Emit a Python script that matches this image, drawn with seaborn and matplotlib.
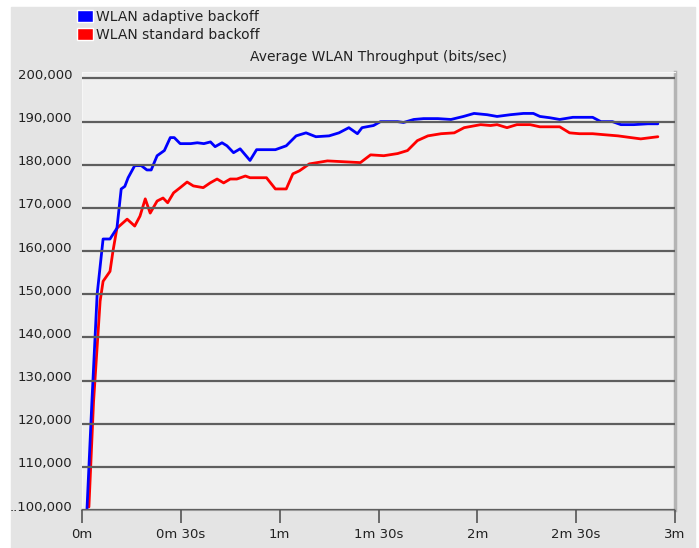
import matplotlib
matplotlib.use("Agg")
import matplotlib.pyplot as plt
import matplotlib.transforms as mtransforms
import seaborn as sns
from matplotlib.patches import Patch, Rectangle

# time in seconds, throughput in bits/sec
adaptive_t = [1.5, 3.0, 4.6, 6.4, 8.5, 10.6, 11.9, 13, 14, 16, 18, 19.7, 21, 22.8, 25, 26.8, 28,
              29.8, 33, 35, 37, 39, 40.4, 42.5, 44, 46, 48, 51, 53, 58.7, 62, 65, 68, 71, 75,
              78, 81, 83.6, 85, 88.5, 90.6, 95.8, 97.6, 100.7, 103.7, 108, 112, 115.8, 119,
              123, 126, 130, 134, 137, 139, 142, 145, 149, 155, 157.5, 161, 163.6, 167.5,
              171.8, 174.8]
adaptive_v = [100000, 125000, 150000, 162800, 162800, 165300, 174400, 175000, 177000, 179800,
              179800, 178800, 178800, 182100, 183300, 186300, 186300, 184900, 184900, 185100,
              184900, 185300, 184200, 185100, 184400, 182800, 183700, 181000, 183500, 183500,
              184400, 186700, 187400, 186500, 186700, 187400, 188600, 187200, 188600, 189100,
              190000, 190000, 189800, 190500, 190700, 190700, 190500, 191200, 191900, 191600,
              191200, 191600, 191900, 191900, 191200, 190900, 190500, 191000, 191000, 190000,
              190000, 189300, 189300, 189500, 189500]

standard_t = [2.1, 3.5, 5.5, 6.4, 8.5, 9.4, 10.6, 13.7, 16, 17.6, 19.2, 20.7, 22.8, 24.6, 26,
              27.8, 29.8, 31.9, 33.8, 36.8, 38.9, 41, 43, 45, 47, 49.6, 51, 56, 58.7, 62, 64,
              66, 69, 74.5, 84.5, 87.6, 91.6, 95.8, 98.8, 101.8, 105, 109, 113, 116, 121, 124,
              126, 129, 132, 136, 139, 145, 148, 151, 155, 158, 162.7, 166.6, 169.6, 172.7,
              174.8]
standard_v = [100700, 125000, 148400, 153000, 155300, 160000, 165300, 167400, 165800, 168100,
              172100, 168800, 171600, 172300, 171200, 173500, 174700, 176000, 175100, 174700,
              175800, 176700, 175800, 176700, 176700, 177400, 177000, 177000, 174400, 174400,
              177900, 178600, 180200, 180900, 180500, 182300, 182100, 182600, 183300, 185600,
              186700, 187200, 187400, 188600, 189300, 189100, 189300, 188600, 189300, 189300,
              188800, 188800, 187400, 187200, 187200, 187000, 186700, 186300, 186000, 186300,
              186500]

x_ticks = [0, 30, 60, 90, 120, 150, 180]
x_labels = ["0m", "0m 30s", "1m", "1m 30s", "2m", "2m 30s", "3m"]
y_ticks = [100000, 110000, 120000, 130000, 140000, 150000, 160000, 170000, 180000, 190000, 200000]
y_labels = ["..100,000", "110,000", "120,000", "130,000", "140,000", "150,000",
            "160,000", "170,000", "180,000", "190,000", "200,000"]

sns.set_style("white")
plt.rcParams["font.family"] = ["DejaVu Sans"]
txt = "#222222"
fs = 10

W, H = 699, 548
fig = plt.figure(figsize=(W / 100, H / 100), dpi=100, facecolor="white")
# gray panel behind everything
fig.patches.append(Rectangle((11 / W, 0), (695 - 11) / W, 1 - 7 / H,
                             transform=fig.transFigure, color="#e4e4e4", zorder=-10))

ax = fig.add_axes([82 / W, 1 - 510 / H, (675 - 82) / W, (510 - 72) / H])
ax.set_zorder(1)
ax.set_facecolor("#efefef")

sns.lineplot(x=standard_t, y=standard_v, color="#ff0000", linewidth=2, ax=ax, zorder=2)
sns.lineplot(x=adaptive_t, y=adaptive_v, color="#0000ff", linewidth=2, ax=ax, zorder=2)

ax.set_xlim(0, 180)
ax.set_ylim(100000, 201500)
ax.set_xticks(x_ticks)
ax.set_xticklabels(x_labels, fontsize=9.5, color=txt)
ax.set_yticks(y_ticks)
ax.set_yticklabels(y_labels, fontsize=9.5, color=txt)
ax.tick_params(axis="x", bottom=True, direction="out", length=9, width=1.2,
               color="#555555", pad=4)
ax.tick_params(axis="y", left=False, length=0, pad=7)
ax.set_xlabel("")
ax.set_ylabel("")

# y labels sit a little above their grid lines
shift = mtransforms.ScaledTranslation(0, 0.045, fig.dpi_scale_trans)
for lab in ax.get_yticklabels():
    lab.set_transform(lab.get_transform() + shift)

ax.yaxis.grid(True, color="#5e5e5e", linewidth=1.6)
ax.xaxis.grid(False)
ax.set_axisbelow(False)

ax.spines["bottom"].set_color("#9a9a9a")
ax.spines["bottom"].set_linewidth(1.5)
ax.spines["right"].set_color("#b4b4b4")
ax.spines["right"].set_linewidth(2.5)
ax.spines["top"].set_color("#f6f6f6")
ax.spines["left"].set_color("#f6f6f6")

fig.text(378 / W, 1 - 57 / H, "Average WLAN Throughput (bits/sec)",
         ha="center", va="center", fontsize=fs, color=txt)

handles = [Patch(facecolor="#0000ff", label="WLAN adaptive backoff"),
           Patch(facecolor="#ff0000", label="WLAN standard backoff")]
fig.legend(handles=handles, loc="upper left", bbox_to_anchor=(77 / W, 1 - 10 / H),
           frameon=False, fontsize=fs, handlelength=1.15, handleheight=0.95,
           handletextpad=0.2, labelspacing=0.3, borderpad=0, borderaxespad=0,
           labelcolor=txt)

fig.savefig("out.png", dpi=100, facecolor="white")
